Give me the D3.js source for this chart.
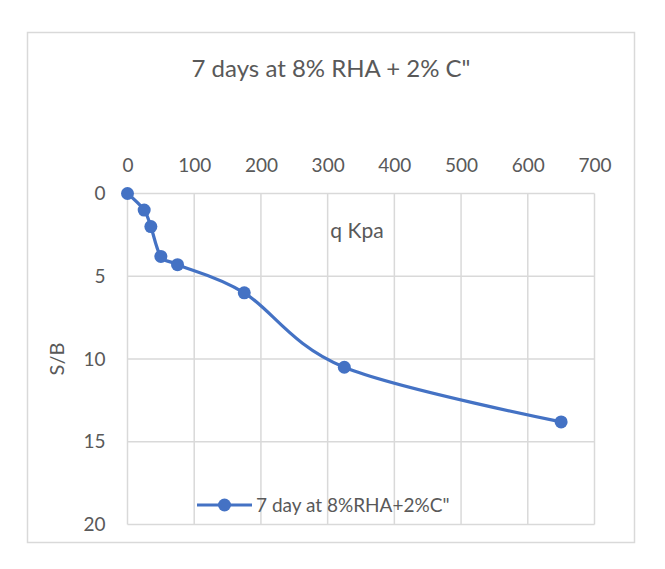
<!DOCTYPE html>
<html>
<head>
<meta charset="utf-8">
<script src="https://cdn.jsdelivr.net/npm/d3@7"></script>
<style>
  body { margin: 0; background: #fff; }
  text { font-family: Lato, "Open Sans", sans-serif; fill: #595959; }
</style>
</head>
<body>
<div id="chart"></div>
<script>
// data
const qValues = [0, 25, 35, 50, 75, 175, 325, 650];
const sbValues = [0, 1, 2, 3.8, 4.3, 6, 10.5, 13.8];
const xTicks = [0, 100, 200, 300, 400, 500, 600, 700];
const yTicks = [0, 5, 10, 15, 20];
const seriesName = "7 day at 8%RHA+2%C\"";
const chartTitle = "7 days at 8% RHA + 2% C\"";

const data = qValues.map((q, i) => ({ q: q, sb: sbValues[i] }));

const W = 665, H = 569;
const svg = d3.select("#chart").append("svg")
  .attr("width", W)
  .attr("height", H);

// outer chart border
svg.append("rect")
  .attr("x", 27.5).attr("y", 32.5)
  .attr("width", 607).attr("height", 510)
  .attr("fill", "#fff")
  .attr("stroke", "#d9d9d9")
  .attr("stroke-width", 1.5);

// scales
const x = d3.scaleLinear().domain([0, 700]).range([127.5, 594.5]);
const y = d3.scaleLinear().domain([0, 20]).range([193.5, 524.5]);

// grid lines
svg.append("g").selectAll("line")
  .data(xTicks)
  .enter().append("line")
  .attr("x1", d => x(d)).attr("x2", d => x(d))
  .attr("y1", y(0)).attr("y2", y(20))
  .attr("stroke", "#d9d9d9").attr("stroke-width", 1.5);

svg.append("g").selectAll("line")
  .data(yTicks)
  .enter().append("line")
  .attr("x1", x(0)).attr("x2", x(700))
  .attr("y1", d => y(d)).attr("y2", d => y(d))
  .attr("stroke", "#d9d9d9").attr("stroke-width", 1.5);

// top x axis labels
const xAxis = svg.append("g")
  .attr("transform", `translate(0, ${y(0) - 22})`)
  .call(d3.axisTop(x).tickValues(xTicks).tickSize(0).tickPadding(0));
xAxis.select(".domain").remove();
xAxis.selectAll("text")
  .attr("font-size", 19).attr("font-family", "Lato, sans-serif").attr("fill", "#595959");

// left y axis labels
const yAxis = svg.append("g")
  .attr("transform", `translate(${x(0) - 22}, 0)`)
  .call(d3.axisLeft(y).tickValues(yTicks).tickSize(0).tickPadding(0));
yAxis.select(".domain").remove();
yAxis.selectAll("text")
  .attr("font-size", 19).attr("font-family", "Lato, sans-serif").attr("fill", "#595959");

// title
svg.append("text")
  .attr("x", 331).attr("y", 77)
  .attr("text-anchor", "middle")
  .attr("font-size", 24)
  .text(chartTitle);

// axis titles
svg.append("text")
  .attr("x", 357).attr("y", 238)
  .attr("text-anchor", "middle")
  .attr("font-size", 21)
  .text("q Kpa");

svg.append("text")
  .attr("transform", `translate(64, ${(y(0) + y(20)) / 2}) rotate(-90)`)
  .attr("text-anchor", "middle")
  .attr("font-size", 20)
  .text("S/B");

// smoothed series line
const line = d3.line()
  .x(d => x(d.q))
  .y(d => y(d.sb))
  .curve(d3.curveCardinal.tension(0));

svg.append("path")
  .datum(data)
  .attr("fill", "none")
  .attr("stroke", "#4472c4")
  .attr("stroke-width", 3.2)
  .attr("d", line);

svg.append("g").selectAll("circle")
  .data(data)
  .enter().append("circle")
  .attr("cx", d => x(d.q))
  .attr("cy", d => y(d.sb))
  .attr("r", 6.5)
  .attr("fill", "#4472c4");

// legend
const lg = svg.append("g").attr("transform", "translate(197, 505)");
lg.append("line")
  .attr("x1", 0).attr("x2", 55)
  .attr("stroke", "#4472c4").attr("stroke-width", 3.2);
lg.append("circle")
  .attr("cx", 27.5).attr("r", 6.5)
  .attr("fill", "#4472c4");
lg.append("text")
  .attr("x", 59).attr("y", 7)
  .attr("font-size", 19)
  .text(seriesName);
</script>
</body>
</html>
